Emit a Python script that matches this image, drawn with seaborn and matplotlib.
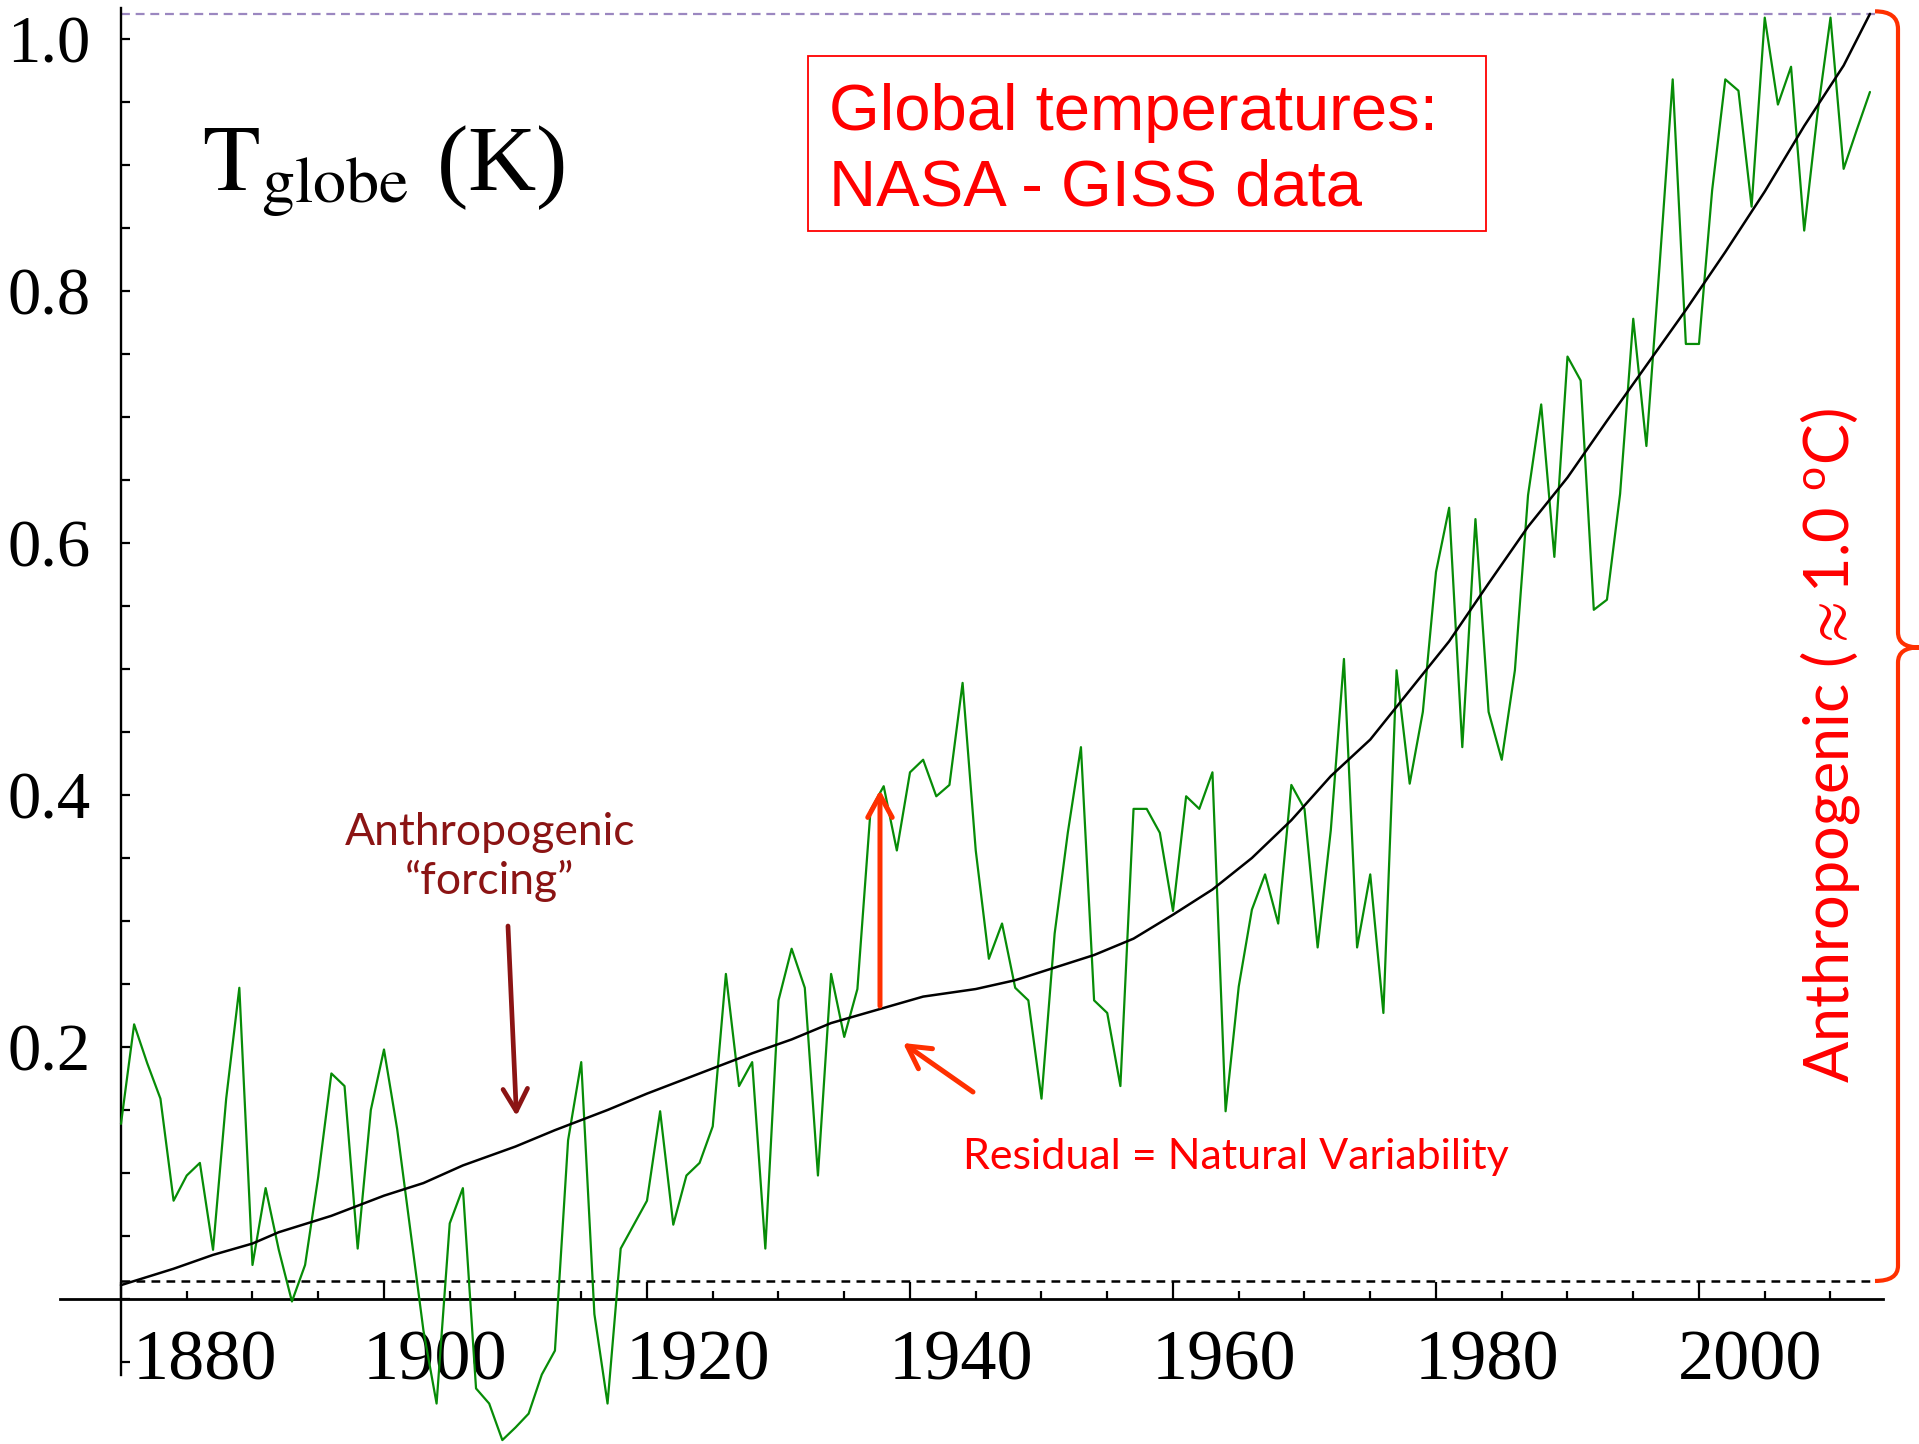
import matplotlib
matplotlib.use("Agg")
import matplotlib.pyplot as plt
import matplotlib.transforms as mtransforms
from matplotlib.patches import Rectangle, PathPatch
from matplotlib.path import Path
from matplotlib import font_manager
import pandas as pd
import seaborn as sns

# ---------------- data ----------------
years = list(range(1880, 2014))
temps = [
    0.139, 0.218, 0.187, 0.159, 0.078, 0.098, 0.108, 0.039, 0.159, 0.247,   # 1880-1889
    0.027, 0.088, 0.039, -0.002, 0.027, 0.097, 0.179, 0.169, 0.040, 0.150,  # 1890-1899
    0.198, 0.135, 0.055, -0.025, -0.083, 0.060, 0.088, -0.071, -0.083, -0.112,  # 1900-1909
    -0.102, -0.091, -0.060, -0.041, 0.126, 0.188, -0.012, -0.083, 0.040, 0.059,  # 1910-1919
    0.078, 0.149, 0.059, 0.098, 0.108, 0.137, 0.258, 0.169, 0.188, 0.040,   # 1920-1929
    0.237, 0.278, 0.247, 0.098, 0.258, 0.208, 0.246, 0.388, 0.407, 0.356,   # 1930-1939
    0.418, 0.428, 0.399, 0.408, 0.489, 0.356, 0.270, 0.298, 0.247, 0.237,   # 1940-1949
    0.159, 0.290, 0.370, 0.438, 0.237, 0.227, 0.169, 0.389, 0.389, 0.370,   # 1950-1959
    0.308, 0.399, 0.389, 0.418, 0.149, 0.248, 0.309, 0.337, 0.298, 0.408,   # 1960-1969
    0.389, 0.279, 0.372, 0.508, 0.279, 0.337, 0.227, 0.499, 0.409, 0.466,   # 1970-1979
    0.577, 0.628, 0.438, 0.619, 0.466, 0.428, 0.499, 0.638, 0.710, 0.589,   # 1980-1989
    0.748, 0.729, 0.547, 0.555, 0.639, 0.778, 0.677, 0.820, 0.968, 0.758,   # 1990-1999
    0.758, 0.880, 0.968, 0.959, 0.867, 1.017, 0.948, 0.978, 0.848, 0.940,   # 2000-2009
    1.017, 0.897, 0.928, 0.958,                                             # 2010-2013
]
forcing_years = [1880, 1884, 1887, 1890, 1892, 1896, 1900, 1903, 1906, 1910,
                 1913, 1917, 1920, 1924, 1928, 1931, 1934, 1938, 1941, 1945,
                 1948, 1951, 1954, 1957, 1960, 1963, 1966, 1969, 1972, 1975,
                 1978, 1981, 1984, 1987, 1990, 1993, 1996, 1999, 2002, 2005,
                 2008, 2011, 2013]
forcing_vals = [0.011, 0.024, 0.035, 0.044, 0.053, 0.066, 0.082, 0.092, 0.106, 0.121,
                0.134, 0.150, 0.163, 0.179, 0.195, 0.206, 0.219, 0.231, 0.240, 0.246,
                0.253, 0.263, 0.273, 0.286, 0.305, 0.325, 0.350, 0.380, 0.415, 0.444,
                0.483, 0.522, 0.568, 0.613, 0.652, 0.697, 0.741, 0.785, 0.831, 0.879,
                0.931, 0.979, 1.020]
baseline_level = 0.0143      # black dashed line (start of the anthropogenic rise)
top_level = 1.02             # purple dashed line (end of the anthropogenic rise)
xtick_years = [1880, 1900, 1920, 1940, 1960, 1980, 2000]
xtick_labels = ["1880", "1900", "1920", "1940", "1960", "1980", "2000"]
ytick_values = [0.2, 0.4, 0.6, 0.8, 1.0]
ytick_labels = ["0.2", "0.4", "0.6", "0.8", "1.0"]

# ---------------- style ----------------
sns.set_theme(style="white")
available = {f.name for f in font_manager.fontManager.ttflist}


def pick(*names):
    for n in names:
        if n in available:
            return n
    return "DejaVu Sans"


SERIF = pick("Liberation Serif", "DejaVu Serif")
NARROW = pick("Liberation Sans Narrow", "Liberation Sans")
HUMAN = pick("Lato", "Open Sans", "Liberation Sans")
plt.rcParams["font.family"] = [SERIF, "DejaVu Serif"]
plt.rcParams["mathtext.fontset"] = "stix"

GREEN = "#078c07"
MAROON = "#8b1414"
RED = "#ff0000"
ORANGE_RED = "#ff3000"
PURPLE = "#9b87c0"

W, H, DPI = 1919, 1444, 100
fig = plt.figure(figsize=(W / DPI, H / DPI), dpi=DPI)
ax = fig.add_axes([0, 0, 1, 1])
ax.set_xlim(1870.80, 2016.73)
ax.set_ylim(-0.1151, 1.031)


# helpers turning reference pixel positions into data coordinates (for annotations only)
def px(x):
    return 1880 + (x - 121) / 13.15


def py(y):
    return (1299 - y) / 1260


df_t = pd.DataFrame({"year": years, "T": temps})
df_f = pd.DataFrame({"year": forcing_years, "F": forcing_vals})

sns.lineplot(data=df_t, x="year", y="T", ax=ax, color=GREEN, linewidth=1.6, zorder=3)
sns.lineplot(data=df_f, x="year", y="F", ax=ax, color="black", linewidth=1.8, zorder=4)

# reference dashed lines
ax.hlines(baseline_level, years[0], years[-1] + 0.4, colors="black",
          linestyles=(0, (3.5, 2.5)), linewidth=1.8, zorder=2)
ax.hlines(top_level, years[0], years[-1] + 0.4, colors=PURPLE,
          linestyles=(0, (4, 2.6)), linewidth=1.6, zorder=2)

# ---------------- axes / spines / ticks ----------------
for s in ("top", "right"):
    ax.spines[s].set_visible(False)
ax.spines["left"].set_position(("data", 1880))
ax.spines["bottom"].set_position(("data", 0))
ax.spines["left"].set_bounds(-0.06, 1.025)
ax.spines["bottom"].set_bounds(1875.4, 2014.0)
ax.spines["left"].set_linewidth(1.7)
ax.spines["bottom"].set_linewidth(2.0)
ax.spines["left"].set_color("black")
ax.spines["bottom"].set_color("black")

ax.set_xticks(xtick_years)
ax.set_xticklabels(xtick_labels)
ax.set_xticks([y for y in range(1885, 2011, 5) if y % 20 != 0], minor=True)
ax.set_yticks(ytick_values)
ax.set_yticklabels(ytick_labels)
ax.set_yticks([round(-0.05 + 0.05 * i, 2) for i in range(22)
               if round(-0.05 + 0.05 * i, 2) not in ytick_values], minor=True)

ax.tick_params(axis="x", which="both", bottom=True, top=False)
ax.tick_params(axis="y", which="both", left=True, right=False)
ax.tick_params(axis="x", which="major", direction="in", length=12, width=1.6,
               labelsize=52, pad=22, colors="black")
ax.tick_params(axis="x", which="minor", direction="in", length=6, width=1.6, colors="black")
ax.tick_params(axis="y", which="both", direction="in", length=6.5, width=1.6,
               labelsize=48, pad=22, colors="black")
for lab in ax.get_xticklabels() + ax.get_yticklabels():
    lab.set_fontfamily(SERIF)
ax.set_xlabel("")
ax.set_ylabel("")
ax.grid(False)

# labels sit to the right of their ticks in the reference
for tick, lab in zip(ax.xaxis.get_major_ticks(), xtick_labels):
    dx = 84 if lab == "1880" else 51
    off = mtransforms.ScaledTranslation(dx / DPI, 0, fig.dpi_scale_trans)
    tick.label1.set_transform(tick.label1.get_transform() + off)

# ---------------- texts & annotations ----------------
ax.text(px(202), py(190), r"$\mathrm{T}_{\mathrm{globe}}$ (K)", fontsize=68,
        family=SERIF, ha="left", va="baseline", color="black")

ax.add_patch(Rectangle((px(808), py(231)), px(1486) - px(808), py(56) - py(231),
                       fill=False, edgecolor=RED, linewidth=1.3, zorder=5))
ax.text(px(829), py(130), "Global temperatures:", fontsize=47, family=[NARROW, "DejaVu Sans"],
        color=RED, ha="left", va="baseline")
ax.text(px(829), py(205), "NASA - GISS data", fontsize=47, family=[NARROW, "DejaVu Sans"],
        color=RED, ha="left", va="baseline")

ax.text(px(490), py(845), "Anthropogenic", fontsize=32, family=[HUMAN, "DejaVu Sans"],
        color=MAROON, ha="center", va="baseline")
ax.text(px(490), py(894), "\u201cforcing\u201d", fontsize=32, family=[HUMAN, "DejaVu Sans"],
        color=MAROON, ha="center", va="baseline")
ax.annotate("", xy=(px(516.5), py(1116)), xytext=(px(508), py(926)),
            arrowprops=dict(arrowstyle="->,head_length=0.4,head_width=0.22", color=MAROON,
                            lw=3.4, mutation_scale=40, shrinkA=0, shrinkB=0))

ax.annotate("", xy=(px(880), py(790)), xytext=(px(880), py(1006)),
            arrowprops=dict(arrowstyle="->,head_length=0.4,head_width=0.22", color=ORANGE_RED,
                            lw=3.6, mutation_scale=40, shrinkA=0, shrinkB=0), zorder=6)
ax.annotate("", xy=(px(903), py(1043)), xytext=(px(973), py(1092)),
            arrowprops=dict(arrowstyle="->,head_length=0.4,head_width=0.22", color=ORANGE_RED,
                            lw=3.6, mutation_scale=40, shrinkA=0, shrinkB=0), zorder=6)
ax.text(px(1236), py(1169), "Residual = Natural Variability", fontsize=31,
        family=[HUMAN, "DejaVu Sans"], color=RED, ha="center", va="baseline")

# right-hand brace spanning the anthropogenic rise
xl, xm, xt = px(1875), px(1898), px(1919)
mid = (top_level + baseline_level) / 2
r = 0.012
verts = [(xl, top_level + 0.002), (xm, top_level + 0.002), (xm, top_level - r),
         (xm, mid + r), (xm, mid), (xt, mid),
         (xm, mid), (xm, mid - r),
         (xm, baseline_level + r), (xm, baseline_level), (xl, baseline_level)]
codes = [Path.MOVETO, Path.CURVE3, Path.CURVE3,
         Path.LINETO, Path.CURVE3, Path.CURVE3,
         Path.CURVE3, Path.CURVE3,
         Path.LINETO, Path.CURVE3, Path.CURVE3]
ax.add_patch(PathPatch(Path(verts, codes), fill=False, edgecolor=ORANGE_RED,
                       linewidth=3.0, clip_on=False, zorder=6, capstyle="butt"))
ax.text(px(1830), py(746), r"Anthropogenic ($\approx$1.0 $\mathregular{^{o}}$C)", fontsize=44,
        family=[HUMAN, "DejaVu Sans"], color=RED, rotation=90, ha="center", va="center",
        rotation_mode="anchor")

fig.savefig("out.png", dpi=DPI)
